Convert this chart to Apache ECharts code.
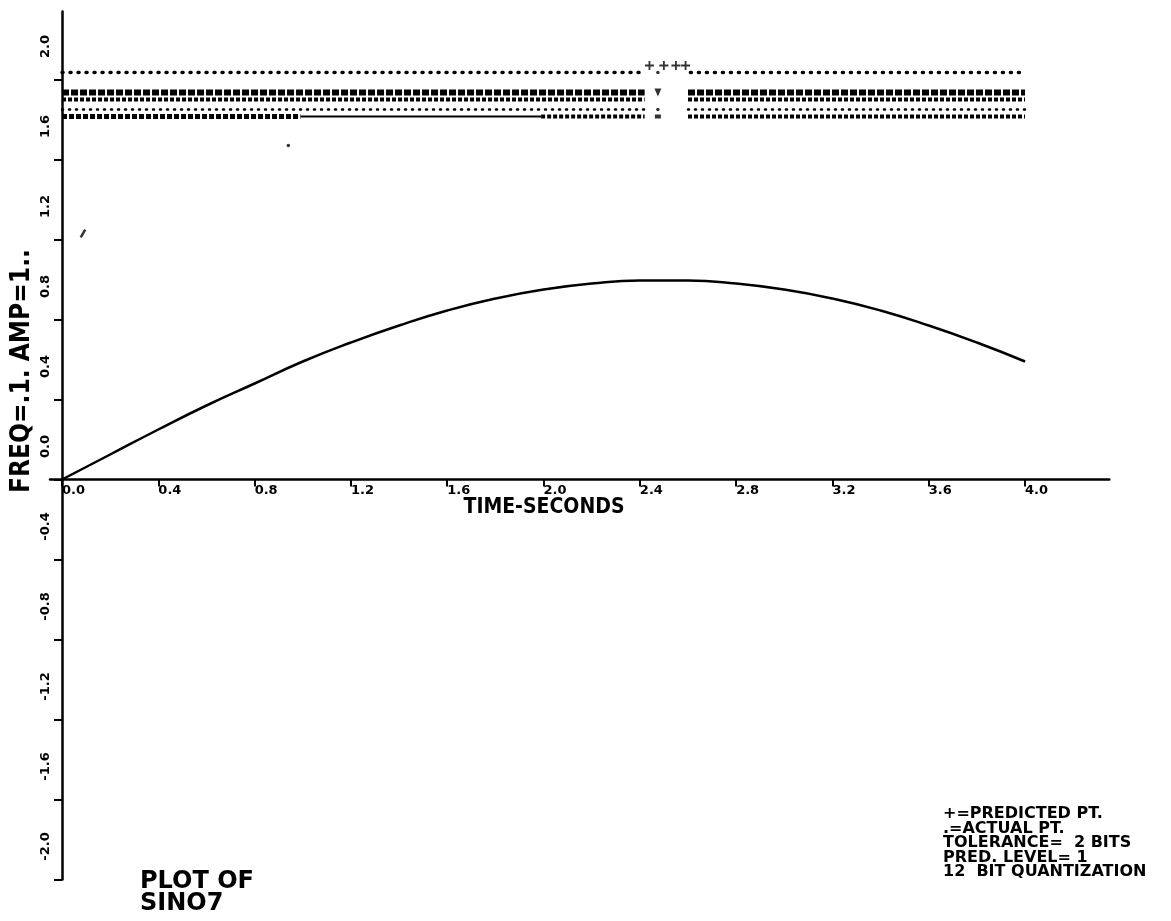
<!DOCTYPE html>
<html>
<head>
<meta charset="utf-8">
<script src="https://cdn.jsdelivr.net/npm/echarts@6/dist/echarts.min.js"></script>
<style>
	html, body { margin: 0; padding: 0; background: #fff; }
	#chart { width: 1171px; height: 921px; }
</style>
</head>
<body>
<div id="chart"></div>
<script>
var timeSec = [0.0, 0.2, 0.4, 0.6, 0.8, 1.0, 1.2, 1.4, 1.6, 1.8, 2.0, 2.2, 2.4, 2.6, 2.8, 3.0, 3.2, 3.4, 3.6, 3.8, 4.0];
var amplitude = [0.0, 0.125, 0.25, 0.37, 0.48, 0.59, 0.685, 0.77, 0.845, 0.905, 0.95, 0.98, 0.995, 0.995, 0.98, 0.95, 0.905, 0.845, 0.77, 0.685, 0.59];

var xTicks = [0.0, 0.4, 0.8, 1.2, 1.6, 2.0, 2.4, 2.8, 3.2, 3.6, 4.0];
var yTicksUpper = [0.0, 0.4, 0.8, 1.2, 1.6, 2.0];
var yTicksLower = [-2.0, -1.6, -1.2, -0.8, -0.4];

// marker rows at the top (time ranges and levels)
var dotRowLevel = 2.035;
var dotRowSegments = [[0.0, 2.41], [2.61, 4.0]];
var bandSegments = [[0.0, 2.42], [2.6, 4.0]];
var bandLevels = [1.935, 1.90, 1.85, 1.815];
var lowRowCircles = [0.0, 0.99];
var lowRowDash = [0.99, 1.99];
var lowRowVees = [[1.99, 2.42], [2.6, 4.0]];

var predictedTimes = [2.44, 2.50, 2.55, 2.59];
var predictedLevel = 2.07;
var gapColumnTime = 2.475;
var strayDot = [0.94, 1.67];
var straySlash = [0.087, 1.23];

var narrowFont = "'DejaVu Sans Condensed', 'Liberation Sans Narrow', 'DejaVu Sans', sans-serif";
var plotFont = "'DejaVu Sans', 'Liberation Sans', sans-serif";

function segmentData(segments, level){
	var out = [];
	for (var i = 0; i < segments.length; i++) {
		if (i > 0) out.push([(segments[i - 1][1] + segments[i][0]) / 2, '-']);
		out.push([segments[i][0], level]);
		out.push([segments[i][1], level]);
	}
	return out;
}

function rowSeries(segments, level, width, dash, cap){
	return {
		type: 'line',
		data: segmentData(segments, level),
		symbol: 'none',
		connectNulls: false,
		silent: true,
		lineStyle: { color: '#000', width: width, type: dash, cap: cap || 'butt' }
	};
}

function yAxisFor(gridIndex, min, max, ticks){
	return {
		type: 'value',
		gridIndex: gridIndex,
		min: min,
		max: max,
		offset: -12,
		axisLine: { onZero: false, lineStyle: { color: '#000', width: 2.5 } },
		axisTick: { customValues: ticks, length: 8, lineStyle: { color: '#000', width: 2 } },
		axisLabel: {
			customValues: ticks,
			formatter: function(v){ return v.toFixed(1); },
			rotate: 90,
			margin: 10,
			padding: [0, 0, 0, 66],
			color: '#000',
			fontFamily: plotFont,
			fontWeight: 'bold',
			fontSize: 13
		},
		splitLine: { show: false }
	};
}

var curveData = timeSec.map(function(t, i){ return [t, amplitude[i]]; });

var chart = echarts.init(document.getElementById('chart'), null, { renderer: 'canvas' });

var option = {
	backgroundColor: '#fff',
	animation: false,
	grid: [
		{ left: 50, top: 11.5, width: 1059.3, height: 468 },
		{ left: 50, top: 479.5, width: 1059.3, height: 400 }
	],
	xAxis: [
		{
			type: 'value',
			gridIndex: 0,
			min: -0.05,
			max: 4.35,
			axisLine: { onZero: false, lineStyle: { color: '#000', width: 2.5 } },
			axisTick: { customValues: xTicks, length: 7, lineStyle: { color: '#000', width: 2 } },
			axisLabel: {
				customValues: xTicks,
				formatter: function(v){ return v.toFixed(1); },
				align: 'left',
				margin: 5,
				color: '#000',
				fontFamily: plotFont,
				fontWeight: 'bold',
				fontSize: 13
			},
			splitLine: { show: false }
		},
		{
			type: 'value',
			gridIndex: 1,
			min: -0.05,
			max: 4.35,
			axisLine: { show: false },
			axisTick: { show: false },
			axisLabel: { show: false },
			splitLine: { show: false }
		}
	],
	yAxis: [
		yAxisFor(0, 0, 2.34, yTicksUpper),
		yAxisFor(1, -2.0, 0, yTicksLower)
	],
	series: [
		{
			type: 'line',
			data: curveData,
			smooth: true,
			symbol: 'none',
			lineStyle: { color: '#000', width: 2.5 }
		},
		rowSeries(dotRowSegments, dotRowLevel, 3.5, [1, 7], 'round'),
		rowSeries(bandSegments, bandLevels[0], 6, [7, 2]),
		rowSeries(bandSegments, bandLevels[1], 4, [4, 2]),
		rowSeries(bandSegments, bandLevels[2], 2.5, [1, 6], 'round'),
		rowSeries([lowRowCircles], bandLevels[3], 5, [5, 2]),
		rowSeries([lowRowDash], bandLevels[3], 2, 'solid'),
		rowSeries(lowRowVees, bandLevels[3], 4, [4, 2]),
		{
			type: 'scatter',
			data: predictedTimes.map(function(t){ return [t, predictedLevel]; }),
			symbol: 'path://M4,0H6V4H10V6H6V10H4V6H0V4H4Z',
			symbolSize: 9,
			itemStyle: { color: '#000' }
		},
		{
			type: 'scatter',
			data: [[gapColumnTime, dotRowLevel], [gapColumnTime, bandLevels[2]], strayDot],
			symbol: 'circle',
			symbolSize: 3.5,
			itemStyle: { color: '#000' }
		},
		{
			type: 'scatter',
			data: [[gapColumnTime, bandLevels[0]]],
			symbol: 'triangle',
			symbolRotate: 180,
			symbolSize: [7, 8],
			itemStyle: { color: '#000' }
		},
		{
			type: 'scatter',
			data: [[gapColumnTime, bandLevels[3]]],
			symbol: 'rect',
			symbolSize: [6, 4],
			itemStyle: { color: '#000' }
		},
		{
			type: 'scatter',
			data: [straySlash],
			symbol: 'rect',
			symbolRotate: -30,
			symbolSize: [2.5, 9],
			itemStyle: { color: '#000' }
		}
	],
	graphic: [
		{
			type: 'text',
			x: 22,
			y: 371,
			rotation: Math.PI / 2,
			style: {
				text: 'FREQ=.1. AMP=1..',
				fill: '#000',
				font: 'bold 26px ' + narrowFont,
				align: 'center',
				verticalAlign: 'middle'
			}
		},
		{
			type: 'text',
			x: 544,
			y: 508,
			style: {
				text: 'TIME-SECONDS',
				fill: '#000',
				font: 'bold 21px ' + narrowFont,
				align: 'center',
				verticalAlign: 'middle'
			}
		},
		{
			type: 'text',
			x: 943,
			y: 807,
			style: {
				text: '+=PREDICTED PT.\n.=ACTUAL PT.\nTOLERANCE=  2 BITS\nPRED. LEVEL= 1\n12  BIT QUANTIZATION',
				fill: '#000',
				font: 'bold 16px ' + plotFont,
				lineHeight: 14.5,
				align: 'left',
				verticalAlign: 'top'
			}
		},
		{
			type: 'text',
			x: 140,
			y: 871,
			style: {
				text: 'PLOT OF\nSINO7',
				fill: '#000',
				font: 'bold 24px ' + plotFont,
				lineHeight: 22,
				align: 'left',
				verticalAlign: 'top'
			}
		}
	]
};

chart.setOption(option);
</script>
</body>
</html>
